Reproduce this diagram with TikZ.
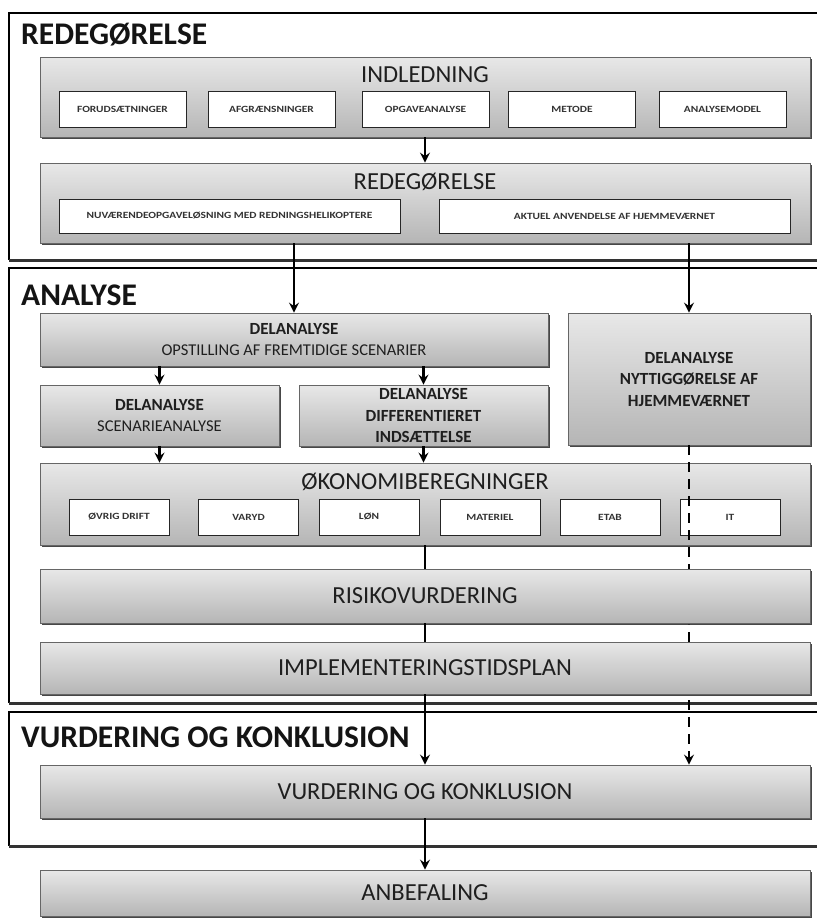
\documentclass[tikz,border=0pt]{standalone}
\usepackage{fontspec}
\setmainfont{Carlito}
\newfontfamily\widefont{Carlito}[FakeStretch=1.2]
\usetikzlibrary{arrows.meta,shadows,calc}
\begin{document}
\begin{tikzpicture}[x=1pt,y=-1pt,
  frameline/.style={draw=black, line width=1.1pt},
  framebottom/.style={draw=black!80, line width=3pt},
  box/.style={draw=black!60, line width=0.8pt, top color=black!9, bottom color=black!29,
    inner sep=0pt, text=black!88, font=\fontsize{24.5}{27}\selectfont,
    drop shadow={shadow xshift=1.6pt, shadow yshift=-1.6pt, fill=black!80, opacity=0.9}},
  sectitle/.style={anchor=west, inner sep=0pt, text=black!92, font=\bfseries\fontsize{31.5}{35}\selectfont},
  boxtitle/.style={inner sep=0pt, text=black!88, font=\fontsize{24.5}{27}\selectfont},
  dtext/.style={align=center, font=\fontsize{16.5}{21.5}\selectfont},
  dbold/.style={align=center, font=\bfseries\fontsize{17}{21.5}\selectfont},
  subbox/.style={draw=black!85, line width=1pt, fill=white, inner sep=0pt, text=black!80,
    font=\widefont\bfseries\fontsize{9.5}{10}\selectfont,
    drop shadow={shadow xshift=0.9pt, shadow yshift=-0.9pt, fill=black!55, opacity=0.8}},
  arr/.style={draw=black, line width=2.5pt, -{Stealth[length=10pt,width=10pt,inset=3.5pt]}},
  link/.style={draw=black, line width=2.5pt},
  dashlink/.style={draw=black, line width=2.3pt, dash pattern=on 10pt off 7pt, -{Stealth[length=10pt,width=10pt,inset=3.5pt]}},
]
\useasboundingbox (0,0) rectangle (817,919);
\clip (0,0) rectangle (817,919);
\fill[white] (0,0) rectangle (817,919);

% section frames
\draw[frameline] (840,13) -- (9,13) -- (9,260);
\draw[framebottom] (9,260) -- (840,260);
\draw[frameline] (840,268) -- (9,268) -- (9,703);
\draw[framebottom] (9,703) -- (840,703);
\draw[frameline] (840,712) -- (9,712) -- (9,846);
\draw[framebottom] (9,846) -- (840,846);

\node[sectitle] (t1) at (21,35) {REDEGØRELSE};
\node[sectitle] (t2) at (21,295) {ANALYSE};
\node[sectitle] (t3) at (21,737) {VURDERING OG KONKLUSION};

% INDLEDNING
\node[box, minimum width=770pt, minimum height=80pt] (ind) at (425,97) {};
\node[boxtitle] (indt) at (425,75) {INDLEDNING};
\node[subbox, minimum width=127pt, minimum height=36pt] (i1) at (122.5,109) {FORUDSÆTNINGER};
\node[subbox, minimum width=127pt, minimum height=36pt] (i2) at (271.5,109) {AFGRÆNSNINGER};
\node[subbox, minimum width=127pt, minimum height=36pt] (i3) at (425.5,109) {OPGAVEANALYSE};
\node[subbox, minimum width=127pt, minimum height=36pt] (i4) at (572,109) {METODE};
\node[subbox, minimum width=127pt, minimum height=36pt] (i5) at (722.5,109) {ANALYSEMODEL};

% REDEGORELSE
\node[box, minimum width=770pt, minimum height=80pt] (red) at (425,203) {};
\node[boxtitle] (redt) at (425,182) {REDEGØRELSE};
\node[subbox, minimum width=341pt, minimum height=34pt] (r1) at (229.5,216) {NUVÆRENDEOPGAVELØSNING MED REDNINGSHELIKOPTERE};
\node[subbox, minimum width=351pt, minimum height=34pt] (r2) at (614.5,216) {AKTUEL ANVENDELSE AF HJEMMEVÆRNET};

% ANALYSE
\node[box, dtext, minimum width=508pt, minimum height=53pt] (opst) at (294,339.5) {{\bfseries\fontsize{17}{21.5}\selectfont DELANALYSE}\\OPSTILLING AF FREMTIDIGE SCENARIER};
\node[box, dbold, minimum width=242pt, minimum height=132pt] (nytt) at (689,379) {DELANALYSE\\NYTTIGGØRELSE AF\\HJEMMEVÆRNET};
\node[box, dtext, minimum width=239pt, minimum height=61pt] (scen) at (159.5,415.5) {{\bfseries\fontsize{17}{21.5}\selectfont DELANALYSE}\\SCENARIEANALYSE};
\node[box, dbold, minimum width=249pt, minimum height=61pt] (diff) at (423.5,415.5) {DELANALYSE\\DIFFERENTIERET\\INDSÆTTELSE};

\node[box, minimum width=770pt, minimum height=82pt] (okon) at (425,504) {};
\node[boxtitle] (okont) at (425,482) {ØKONOMIBEREGNINGER};
\node[subbox, minimum width=100pt, minimum height=36pt] (o1) at (119,517) {ØVRIG DRIFT};
\node[subbox, minimum width=100pt, minimum height=36pt] (o2) at (248.5,517) {VARYD};
\node[subbox, minimum width=100pt, minimum height=36pt] (o3) at (369,517) {LØN};
\node[subbox, minimum width=100pt, minimum height=36pt] (o4) at (490,517) {MATERIEL};
\node[subbox, minimum width=100pt, minimum height=36pt] (o5) at (610,517) {ETAB};
\node[subbox, minimum width=100pt, minimum height=36pt] (o6) at (730,517) {IT};

% VURDERING / ANBEFALING
\node[box, minimum width=770pt, minimum height=53pt] (vurd) at (425,791.5) {VURDERING OG KONKLUSION};
\node[box, minimum width=770pt, minimum height=46pt] (anbef) at (425,893) {ANBEFALING};

\draw[dashlink] (nytt.south) -- (vurd.north -| nytt.south);

\node[box, minimum width=770pt, minimum height=54pt] (risk) at (425,596) {RISIKOVURDERING};
\node[box, minimum width=770pt, minimum height=52pt] (impl) at (425,668) {IMPLEMENTERINGSTIDSPLAN};

% connectors
\draw[arr] (ind.south) -- (red.north);
\draw[arr] (red.south -| opst.north) -- (opst.north);
\draw[arr] (red.south -| nytt.north) -- (nytt.north);
\draw[arr] (opst.south -| scen.north) -- (scen.north);
\draw[arr] (opst.south -| diff.north) -- (diff.north);
\draw[arr] (scen.south) -- (scen.south |- okon.north);
\draw[arr] (diff.south) -- (diff.south |- okon.north);
\draw[link] (okon.south) -- (risk.north);
\draw[link] (risk.south) -- (impl.north);
\draw[arr] (impl.south) -- (vurd.north);
\draw[arr] (vurd.south) -- (anbef.north);
\end{tikzpicture}
\end{document}
